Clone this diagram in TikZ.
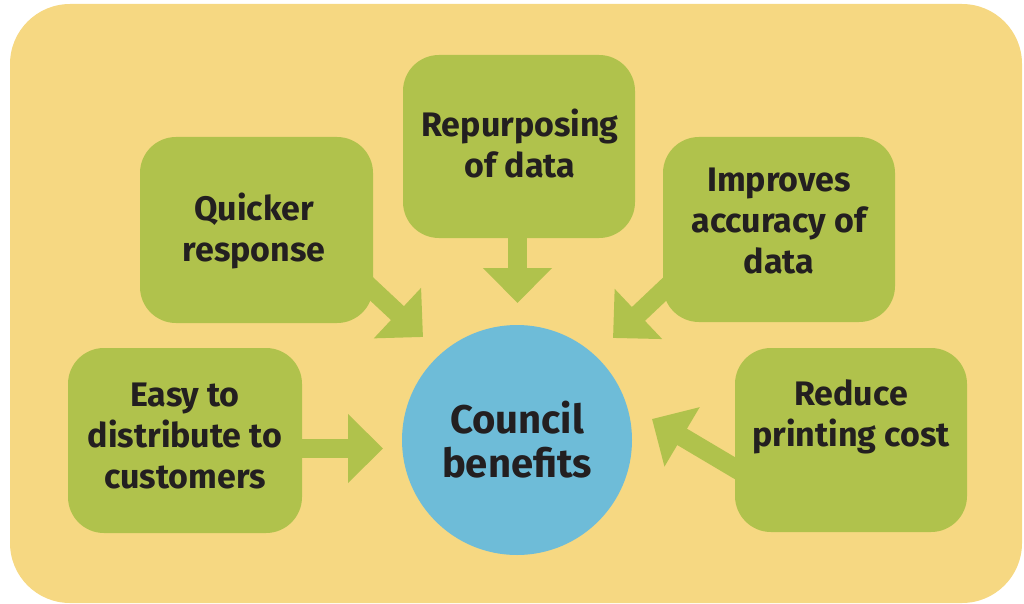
\documentclass[tikz,border=0pt]{standalone}
\usepackage{fontspec}
\setmainfont{Fira Sans}
\usetikzlibrary{arrows.meta}
\definecolor{bgY}{RGB}{246,216,130}
\definecolor{boxG}{RGB}{176,194,76}
\definecolor{circB}{RGB}{110,188,216}
\definecolor{txt}{RGB}{35,31,32}
\tikzset{
  benefit/.style={fill=boxG, draw=none, rounded corners=36pt, minimum width=232pt, minimum height=185pt, inner sep=0pt},
  btext/.style={text=txt, align=center, font=\fontsize{34}{41}\selectfont\bfseries},
  centre/.style={circle, fill=circB, draw=none, minimum size=230pt, inner sep=0pt, text=txt, align=center, font=\fontsize{40}{44}\selectfont\bfseries},
  fatarrow/.style={draw=boxG, line width=19pt, -{Triangle[width=67pt,length=35pt]}}
}
\begin{document}
\begin{tikzpicture}[x=1pt,y=-1pt]
\useasboundingbox (0,0) rectangle (1024,604);
\fill[bgY, rounded corners=60pt] (10,4) rectangle (1022,603);
% arrows (drawn beneath boxes)
\coordinate (q1) at (330,250); \coordinate (q2) at (423,337);
\coordinate (r1) at (517.5,230); \coordinate (r2) at (517.5,303);
\coordinate (i1) at (706,250); \coordinate (i2) at (613,338);
\coordinate (e1) at (290,448.5); \coordinate (e2) at (383,448.5);
\coordinate (p1) at (770,489); \coordinate (p2) at (652,419);
\draw[fatarrow] (q1) -- (q2);
\draw[fatarrow] (r1) -- (r2);
\draw[fatarrow] (i1) -- (i2);
\draw[fatarrow] (e1) -- (e2);
\draw[fatarrow] (p1) -- (p2);
% boxes
\node[benefit, minimum width=233pt, minimum height=186pt] (quick) at (256.5,230) {};
\node[benefit, minimum height=183pt] (rep) at (519,146.5) {};
\node[benefit] (imp) at (779,229.5) {};
\node[benefit, minimum width=234pt] (easy) at (185,440.5) {};
\node[benefit, minimum height=184pt] (red) at (851,440) {};
\node[centre] (c) at (517,440) {Council\\benefits};
% texts
\node[btext] (quickT) at (254,231) {Quicker\\response};
\node[btext] (repT) at (520,144) {Repurposing\\of data};
\node[btext] (impT) at (779,221) {Improves\\accuracy of\\data};
\node[btext] (easyT) at (185,436) {Easy to\\distribute to\\customers};
\node[btext] (redT) at (851,417) {Reduce\\printing cost};
\end{tikzpicture}
\end{document}
